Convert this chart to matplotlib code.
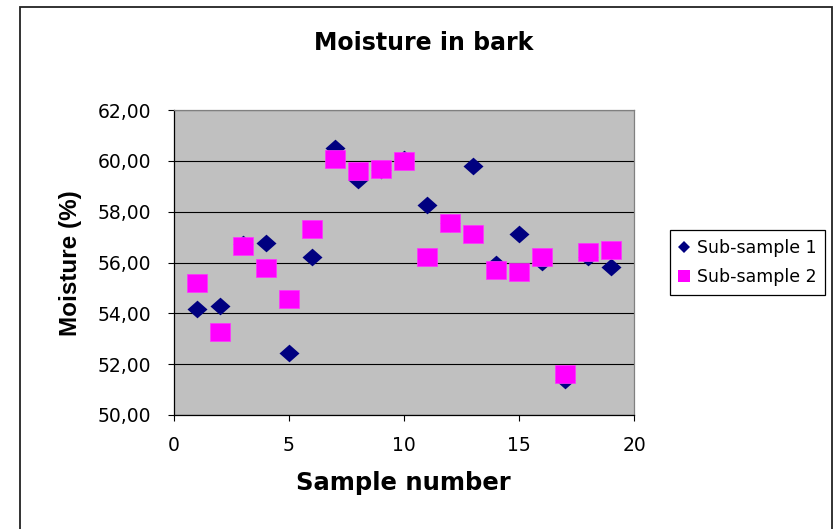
import matplotlib
matplotlib.use("Agg")
import matplotlib.pyplot as plt
from matplotlib.lines import Line2D
from matplotlib.patches import Rectangle
from matplotlib.ticker import FuncFormatter, MultipleLocator

# ---- data ----
sample_numbers = list(range(1, 20))
sub_sample_1 = [54.16, 54.29, 56.72, 56.78, 52.43, 56.22, 60.50, 59.25, 59.63, 60.06,
                58.26, 57.55, 59.81, 55.93, 57.11, 56.02, 51.39, 56.23, 55.84]
sub_sample_2 = [55.21, 53.28, 56.66, 55.77, 54.55, 57.31, 60.06, 59.61, 59.68, 60.00,
                56.22, 57.57, 57.12, 55.71, 55.63, 56.23, 51.60, 56.40, 56.48]
series_names = ["Sub-sample 1", "Sub-sample 2"]
title = "Moisture in bark"
x_label = "Sample number"
y_label = "Moisture (%)"

W, H = 834, 529
fig = plt.figure(figsize=(W / 100, H / 100), dpi=100)
fig.patch.set_facecolor("white")

# outer chart border
fig.patches.append(Rectangle((20 / W, -0.02), (832 - 20) / W, 1 - 7 / H + 0.02,
                             transform=fig.transFigure, fill=False,
                             edgecolor="#222222", linewidth=1.3))

left, right, top, bottom = 174, 634, 110, 415
ax = fig.add_axes([left / W, 1 - bottom / H, (right - left) / W, (bottom - top) / H])
ax.set_facecolor("#C0C0C0")
ax.set_xlim(0, 20)
ax.set_ylim(50, 62)
ax.xaxis.set_major_locator(MultipleLocator(5))
ax.yaxis.set_major_locator(MultipleLocator(2))
ax.yaxis.set_major_formatter(FuncFormatter(lambda v, p: f"{v:.2f}".replace(".", ",")))
ax.grid(axis="y", color="black", linewidth=0.8)
ax.set_axisbelow(True)
for s in ["top", "right"]:
    ax.spines[s].set_color("#808080")
    ax.spines[s].set_linewidth(0.9)
for s in ["left", "bottom"]:
    ax.spines[s].set_color("black")
    ax.spines[s].set_linewidth(0.9)
ax.tick_params(axis="both", direction="out", length=4.5, width=0.8, color="black",
               labelsize=13.5, labelcolor="black")
ax.tick_params(axis="y", pad=12)
ax.tick_params(axis="x", pad=10.5)

diamond = [(-1, 0), (0, 0.885), (1, 0), (0, -0.885), (-1, 0)]
square = [(-1, -0.885), (1, -0.885), (1, 0.885), (-1, 0.885), (-1, -0.885)]

ax.plot(sample_numbers, sub_sample_1, ls="none", marker=diamond, ms=14.4,
        color="#000080", mec="#000080", mew=0, clip_on=False, zorder=3)
ax.plot(sample_numbers, sub_sample_2, ls="none", marker=square, ms=14.2,
        color="#FF00FF", mec="#FF33FF", mew=0.5, clip_on=False, zorder=4)

fig.text(424 / W, 1 - 50 / H, title, ha="center", va="baseline",
         fontsize=17, fontweight="bold", family="DejaVu Sans")
fig.text(403 / W, 1 - 490 / H, x_label, ha="center", va="baseline",
         fontsize=17.5, fontweight="bold", family="DejaVu Sans")
fig.text(70 / W, 1 - 263.5 / H, y_label, ha="center", va="center", rotation=90,
         fontsize=17.5, fontweight="bold", family="Liberation Sans")

handles = [
    Line2D([], [], ls="none", marker="D", ms=6.5, color="#000080", mew=0),
    Line2D([], [], ls="none", marker="s", ms=8.5, color="#FF00FF", mew=0),
]
leg = fig.legend(handles, series_names, loc="upper left",
                 bbox_to_anchor=(670 / W, 1 - 230 / H), bbox_transform=fig.transFigure,
                 fontsize=12.5, frameon=True, fancybox=False, framealpha=1,
                 edgecolor="black", borderpad=0.5, labelspacing=0.67,
                 handlelength=0.6, handletextpad=0.45, borderaxespad=0, numpoints=1)
leg.get_frame().set_linewidth(0.9)

fig.savefig("out.png", dpi=100, facecolor="white")
